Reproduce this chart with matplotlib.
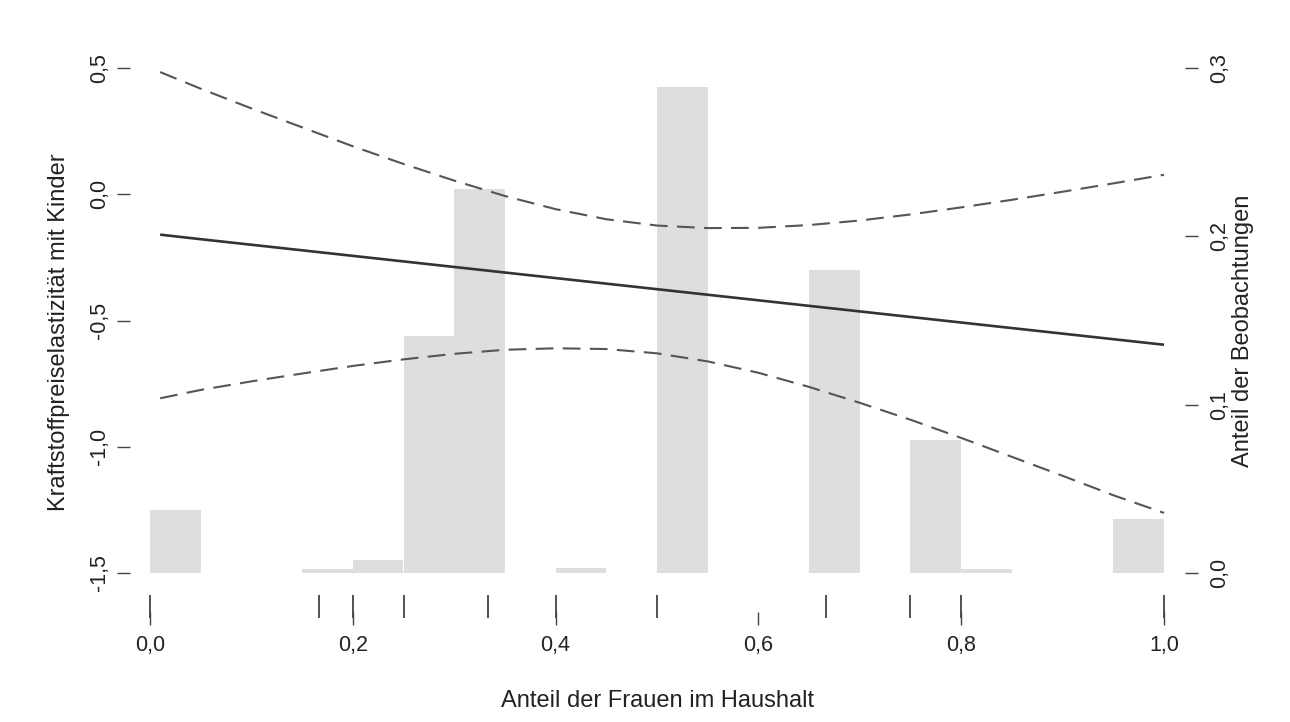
import numpy as np
import matplotlib.pyplot as plt

plt.rcParams['font.family'] = ['Liberation Sans', 'DejaVu Sans']

# Histogram of observations (share of women in household), bin width 0.05
bin_left = [0.00, 0.15, 0.20, 0.25, 0.30, 0.40, 0.50, 0.65, 0.75, 0.80, 0.95]
bin_share = [0.0374, 0.0025, 0.0075, 0.1408, 0.2280, 0.0030, 0.2890, 0.1800, 0.0790, 0.0025, 0.0320]
bin_width = 0.05

# Observed distinct values (rug)
rug_values = [0.0, 1 / 6, 0.2, 0.25, 1 / 3, 0.4, 0.5, 2 / 3, 0.75, 0.8, 1.0]

# Marginal effect and confidence band
x_grid = [0.01, 0.05, 0.10, 0.15, 0.20, 0.25, 0.30, 0.35, 0.40, 0.45, 0.50,
          0.55, 0.60, 0.65, 0.70, 0.75, 0.80, 0.85, 0.90, 0.95, 1.00]
effect = [-0.160, -0.178, -0.200, -0.222, -0.244, -0.266, -0.288, -0.310, -0.332, -0.354, -0.376,
          -0.398, -0.420, -0.442, -0.464, -0.486, -0.508, -0.530, -0.552, -0.574, -0.596]
upper = [0.484, 0.418, 0.340, 0.265, 0.190, 0.120, 0.054, -0.007, -0.059, -0.099, -0.124,
         -0.134, -0.133, -0.122, -0.104, -0.080, -0.052, -0.022, 0.010, 0.043, 0.077]
lower = [-0.808, -0.775, -0.741, -0.710, -0.680, -0.654, -0.632, -0.616, -0.610, -0.613, -0.630,
         -0.662, -0.707, -0.763, -0.826, -0.893, -0.965, -1.040, -1.115, -1.192, -1.262]

x_ticks = [0.0, 0.2, 0.4, 0.6, 0.8, 1.0]
y_ticks = [-1.5, -1.0, -0.5, 0.0, 0.5]
share_ticks = [0.0, 0.1, 0.2, 0.3]


def de(v):
    return f"{v:.1f}".replace('.', ',')


text_col = '#222222'
tick_col = '#444444'

fig = plt.figure(figsize=(12.9, 7.22), dpi=100)
ax = fig.add_axes([130 / 1290, 1 - 612 / 722, 1055 / 1290, 565 / 722])
ax2 = ax.twinx()

# bars on the right-hand scale, lines on top with the left-hand scale
ax2.bar(bin_left, bin_share, width=bin_width, align='edge', color='#dedede', linewidth=0, zorder=1)
ax.set_zorder(ax2.get_zorder() + 1)
ax.patch.set_visible(False)

ax.plot(x_grid, effect, color='#333333', lw=1.9, solid_capstyle='butt')
for band in (upper, lower):
    ax.plot(x_grid, band, color='#555555', lw=1.5, dashes=(8.5, 4.5))

ax.set_xlim((130 - 150) / 1014, (1185 - 150) / 1014)
ax.set_ylim(-1.5 - 39 / 252.5, 0.5 + 21 / 252.5)
ax2.set_ylim(-39 / 1683, 0.3 + 21 / 1683)

# rug of observed values below the plot area
ax.vlines(rug_values, (612 - 595) / 565, (612 - 618) / 565, transform=ax.get_xaxis_transform(),
          color='#444444', lw=1.3, clip_on=False)

for a in (ax, ax2):
    for s in a.spines.values():
        s.set_visible(False)

ax.set_xticks(x_ticks)
ax.set_xticklabels([de(v) for v in x_ticks])
ax.set_yticks(y_ticks)
ax.set_yticklabels([de(v) for v in y_ticks], rotation=90, va='center')
ax2.set_yticks(share_ticks)
ax2.set_yticklabels([de(v) for v in share_ticks], rotation=90, va='center')

for a in (ax, ax2):
    a.tick_params(length=9.4, width=1.0, color=tick_col, labelcolor=text_col, labelsize=15.5)
ax.tick_params(axis='x', pad=7)
ax.tick_params(axis='y', pad=5)
ax2.tick_params(axis='y', pad=8)

ax.set_xlabel('Anteil der Frauen im Haushalt', fontsize=17, color=text_col)
ax.xaxis.set_label_coords(0.5, (612 - 690) / 565)
ax.set_ylabel('Kraftstoffpreiselastizität mit Kinder', fontsize=17, color=text_col)
ax.yaxis.set_label_coords((59 - 130) / 1055, (612 - 332) / 565)
ax2.set_ylabel('Anteil der Beobachtungen', fontsize=17, color=text_col)
ax2.yaxis.set_label_coords((1243 - 130) / 1055, (612 - 331) / 565)
ax.yaxis.label.set_va('center')
ax2.yaxis.label.set_va('center')

fig.savefig('out.png', dpi=100, facecolor='white')
